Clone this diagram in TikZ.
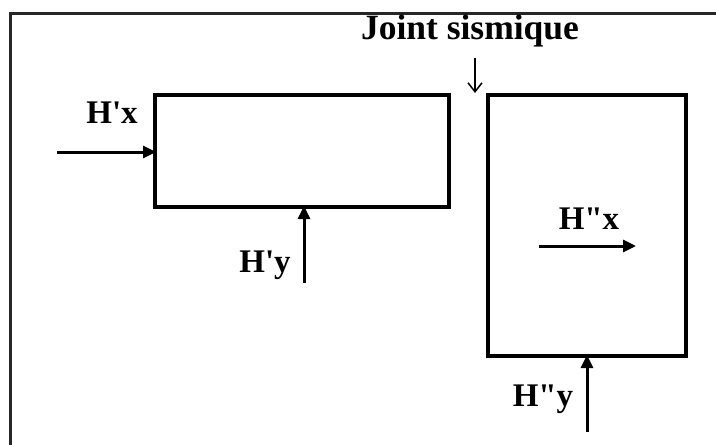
\documentclass[tikz,border=0pt]{standalone}
\usepackage{fontspec}
\newfontfamily\lab{Liberation Serif}
\usetikzlibrary{arrows.meta}
\tikzset{
  box/.style={draw=black, line width=3.8pt, inner sep=0pt, outer sep=0pt, rectangle},
  force/.style={line width=3pt, -{Triangle[length=13pt,width=12pt]}, shorten >=-1pt},
  jarrow/.style={line width=1.5pt, -{Straight Barb[length=9pt,width=14pt,line width=1.5pt]}},
  lbl/.style={font=\lab\bfseries\fontsize{33}{33}\selectfont, inner sep=0pt},
  jlbl/.style={font=\lab\bfseries\fontsize{35.5}{35.5}\selectfont, inner sep=0pt}
}
\begin{document}
\begin{tikzpicture}[x=1pt,y=-1pt]
\useasboundingbox (0,0) rectangle (716,445);
\fill[white] (0,0) rectangle (716,445);
% outer frame
\draw[line width=3pt, black!85] (10,450) -- (10,13) -- (720,13);
% blocks
\node[box, minimum width=294pt, minimum height=112pt] (A) at (302,151) {};
\node[box, minimum width=198pt, minimum height=261pt] (B) at (587,225.5) {};
% labels
\node[jlbl] (jt) at (470,31) {Joint sismique};
\node[lbl] (hx1) at (112,113) {H'x};
\node[lbl] (hy1) at (265,265) {H'y};
\node[lbl] (hx2) at (589,219) {H"x};
\node[lbl] (hy2) at (543,399) {H"y};
% force arrows
\coordinate (hxs) at (57,152);
\draw[force] (hxs) -- (hxs -| A.west);
\coordinate (hys) at (304,283);
\draw[force] (hys) -- (hys |- A.south);
\coordinate (hx2s) at (539,246);
\coordinate (hx2e) at (635,246);
\draw[force] (hx2s) -- (hx2e);
\coordinate (hy2s) at (587,432);
\draw[force] (hy2s) -- (hy2s |- B.south);
% joint arrow
\coordinate (js) at (475,58);
\coordinate (je) at (475,93);
\draw[jarrow] (js) -- (je);
\end{tikzpicture}
\end{document}
